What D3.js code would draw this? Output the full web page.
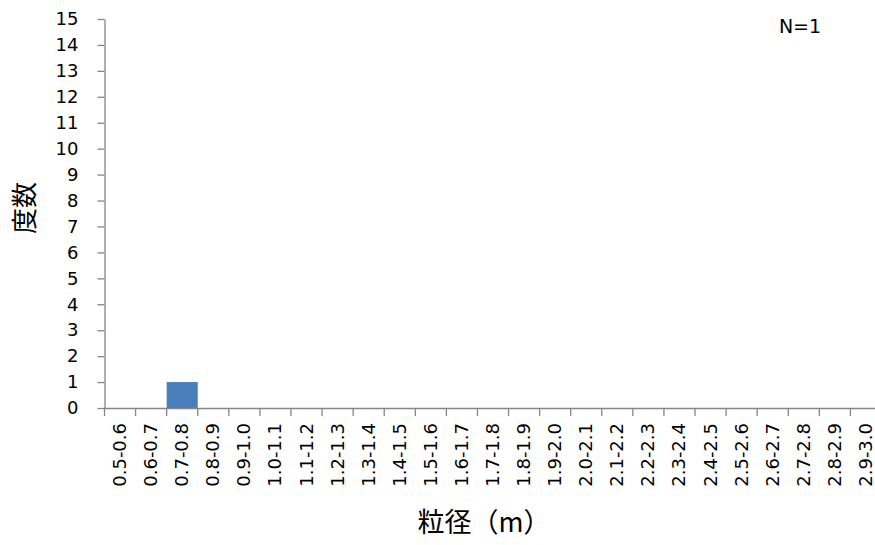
<!DOCTYPE html>
<html><head><meta charset="utf-8">
<script src="https://cdn.jsdelivr.net/npm/d3@7"></script>
<style>
html,body{margin:0;padding:0;background:#fff;}
svg{display:block;}
</style></head>
<body>
<svg id="chart" width="875" height="545"></svg>
<script>
const categories = ["0.5-0.6","0.6-0.7","0.7-0.8","0.8-0.9","0.9-1.0","1.0-1.1","1.1-1.2","1.2-1.3","1.3-1.4","1.4-1.5","1.5-1.6","1.6-1.7","1.7-1.8","1.8-1.9","1.9-2.0","2.0-2.1","2.1-2.2","2.2-2.3","2.3-2.4","2.4-2.5","2.5-2.6","2.6-2.7","2.7-2.8","2.8-2.9","2.9-3.0"];
const counts = [0,0,1,0,0,0,0,0,0,0,0,0,0,0,0,0,0,0,0,0,0,0,0,0,0];
const yTicks = [0,1,2,3,4,5,6,7,8,9,10,11,12,13,14,15];
const yTitle = "度数";
const xTitle = "粒径（m）";
const note = "N=1";

(function(){
const svg = d3.select("#chart");
const plotLeft = 104.5, plotTop = 19, plotBottom = 408;
const step = 31.08;
const x = d3.scaleBand().domain(categories).range([plotLeft, plotLeft + step * categories.length]).padding(0);
const y = d3.scaleLinear().domain([0, 15]).range([plotBottom, plotTop]);
const axisColor = "#868686";
const font = "'DejaVu Sans', Verdana, sans-serif";

// bars
svg.append("g").selectAll("rect").data(categories).join("rect")
  .attr("x", d => x(d))
  .attr("y", (d,i) => y(counts[i]))
  .attr("width", x.bandwidth())
  .attr("height", (d,i) => y(0) - y(counts[i]))
  .attr("fill", "#4a7ebb");

// y axis
const yAxis = svg.append("g").attr("transform", `translate(${plotLeft},0)`)
  .call(d3.axisLeft(y).tickValues(yTicks).tickSize(7).tickSizeOuter(0).tickPadding(19));
yAxis.selectAll("path,line").attr("stroke", axisColor).attr("stroke-width", 1.3);
yAxis.selectAll("text").attr("font-family", font).attr("font-size", 18).attr("fill", "#000");

// x axis
const xAxis = svg.append("g").attr("transform", `translate(0,${plotBottom})`)
  .call(d3.axisBottom(x).tickSize(0).tickSizeOuter(0).tickPadding(0));
xAxis.select("path").attr("stroke", axisColor).attr("stroke-width", 1.3);
xAxis.selectAll("text")
  .attr("font-family", font).attr("font-size", 18).attr("fill", "#000")
  .attr("text-anchor", "end")
  .attr("dy", null)
  .attr("transform", "translate(6,15) rotate(-90)");
// boundary ticks
svg.append("g").selectAll("line").data(categories).join("line")
  .attr("x1", d => x(d)).attr("x2", d => x(d))
  .attr("y1", plotBottom).attr("y2", plotBottom + 8)
  .attr("stroke", axisColor).attr("stroke-width", 1.3);

// titles
svg.append("text").attr("x", 484).attr("y", 532).attr("text-anchor", "middle")
  .attr("font-family", "'Noto Sans CJK JP', sans-serif").attr("font-size", 27).text(xTitle);
svg.append("text").attr("transform", "translate(34,208) rotate(-90)").attr("text-anchor", "middle")
  .attr("font-family", "'Noto Sans CJK JP', sans-serif").attr("font-size", 26).text(yTitle);
svg.append("text").attr("x", 800).attr("y", 33).attr("text-anchor", "middle")
  .attr("font-family", font).attr("font-size", 19).text(note);
})();
</script>
</body></html>
